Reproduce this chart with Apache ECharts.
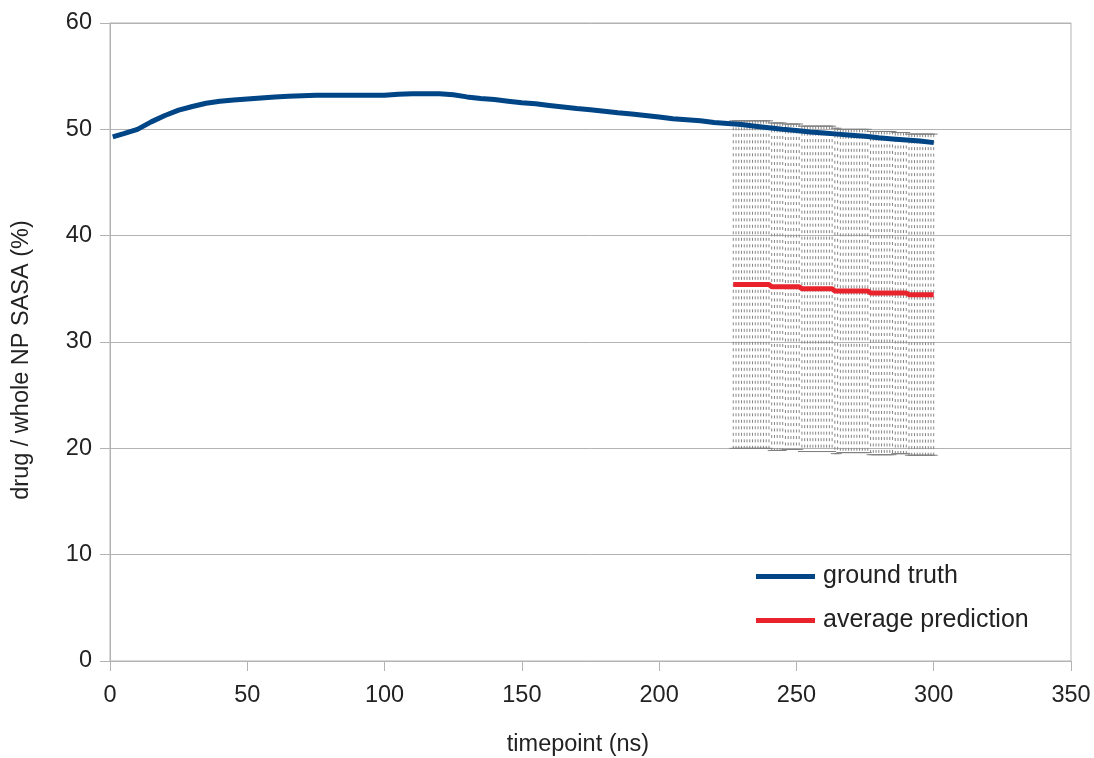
<!DOCTYPE html>
<html>
<head>
<meta charset="utf-8">
<script src="https://cdn.jsdelivr.net/npm/echarts@6/dist/echarts.min.js"></script>
<style>
html,body{margin:0;padding:0;background:#fff;}
#chart{width:1094px;height:758px;}
</style>
</head>
<body>
<div id="chart"></div>
<script>
// Ground truth (time in ns, value in %)
const truthTime = [1,5,10,15,20,25,30,35,40,45,50,55,60,65,70,75,80,85,90,95,100,105,110,115,120,125,130,135,140,145,150,155,160,165,170,175,180,185,190,195,200,205,210,215,220,225,230,235,240,245,250,255,260,265,270,275,280,285,290,295,300];
const truthValues = [49.3,49.6,50.0,50.7,51.3,51.8,52.15,52.45,52.65,52.75,52.85,52.95,53.05,53.1,53.15,53.2,53.2,53.2,53.2,53.2,53.2,53.3,53.35,53.35,53.35,53.25,53.05,52.9,52.8,52.65,52.5,52.4,52.25,52.1,51.95,51.85,51.7,51.55,51.45,51.3,51.15,51.0,50.9,50.8,50.65,50.55,50.45,50.3,50.15,50.0,49.9,49.75,49.65,49.55,49.45,49.35,49.2,49.1,49.0,48.9,48.75];

// Average prediction with error (time 227..300 ns)
const predTime = [227,228,229,230,231,232,233,234,235,236,237,238,239,240,241,242,243,244,245,246,247,248,249,250,251,252,253,254,255,256,257,258,259,260,261,262,263,264,265,266,267,268,269,270,271,272,273,274,275,276,277,278,279,280,281,282,283,284,285,286,287,288,289,290,291,292,293,294,295,296,297,298,299,300];
const predValues = [35.4,35.4,35.4,35.4,35.4,35.4,35.4,35.4,35.4,35.4,35.4,35.4,35.4,35.4,
  35.2,35.2,35.2,35.2,35.2,35.2,35.2,35.2,35.2,35.2,35.2,
  35.0,35.0,35.0,35.0,35.0,35.0,35.0,35.0,35.0,35.0,35.0,35.0,
  34.8,34.8,34.8,34.8,34.8,34.8,34.8,34.8,34.8,34.8,34.8,34.8,34.8,
  34.6,34.6,34.6,34.6,34.6,34.6,34.6,34.6,34.6,34.6,34.6,34.6,34.6,34.6,
  34.45,34.45,34.45,34.45,34.45,34.45,34.45,34.45,34.45,34.45];
const predError = [15.4,15.4,15.4,15.4,15.4,15.4,15.4,15.4,15.4,15.4,15.4,15.4,15.4,15.4,15.4,15.4,15.4,15.4,15.4,
  15.3,15.3,15.3,15.3,15.3,15.3,15.3,15.3,15.3,15.3,15.3,15.3,15.3,15.3,15.3,15.3,15.3,15.3,15.3,15.3,
  15.2,15.2,15.2,15.2,15.2,15.2,15.2,15.2,15.2,15.2,15.2,15.2,15.2,15.2,15.2,15.2,15.2,15.2,15.2,15.2,
  15.1,15.1,15.1,15.1,15.1,15.1,15.1,15.1,15.1,15.1,15.1,15.1,15.1,15.1,15.1];

const xTicks = [0,50,100,150,200,250,300,350];
const yTicks = [0,10,20,30,40,50,60];
const xTitle = 'timepoint (ns)';
const yTitle = 'drug / whole NP SASA (%)';

const truthData = truthTime.map((t,i)=>[t,truthValues[i]]);
const predData = predTime.map((t,i)=>[t,predValues[i]]);
const errData = predTime.map((t,i)=>[t,predValues[i]-predError[i],predValues[i]+predError[i]]);

const FONT = '"Liberation Sans", Arial, sans-serif';
const chart = echarts.init(document.getElementById('chart'), null, {renderer:'canvas'});
chart.setOption({
  animation:false,
  backgroundColor:'#ffffff',
  grid:{left:110,right:23,top:23,bottom:97,show:true,borderColor:'#b3b3b3',borderWidth:1,containLabel:false},
  graphic:[
    {type:'text',x:578,y:745,silent:true,
     style:{text:xTitle,font:'23.5px ' + FONT,fill:'#222',align:'center',verticalAlign:'middle'}},
    {type:'text',x:22,y:360,rotation:Math.PI/2,silent:true,
     style:{text:yTitle,font:'23.5px ' + FONT,fill:'#222',align:'center',verticalAlign:'middle'}}
  ],
  xAxis:{
    type:'value',min:xTicks[0],max:xTicks[xTicks.length-1],interval:50,
    axisLine:{show:true,onZero:false,lineStyle:{color:'#b3b3b3',width:1}},
    axisTick:{show:true,length:10,lineStyle:{color:'#b3b3b3'}},
    axisLabel:{fontFamily:FONT,fontSize:23.5,color:'#222',margin:23},
    splitLine:{show:false}
  },
  yAxis:{
    type:'value',min:yTicks[0],max:yTicks[yTicks.length-1],interval:10,
    axisLine:{show:true,lineStyle:{color:'#b3b3b3',width:1}},
    axisTick:{show:true,length:10,lineStyle:{color:'#b3b3b3'}},
    axisLabel:{fontFamily:FONT,fontSize:23.5,color:'#222',margin:18},
    splitLine:{show:true,lineStyle:{color:'#b3b3b3',width:1}}
  },
  legend:{
    orient:'vertical',left:751,top:559,itemWidth:59,itemHeight:5,itemGap:19,
    icon:'rect',
    textStyle:{fontFamily:FONT,fontSize:25,color:'#222',lineHeight:24,padding:[0,0,0,3]},
    data:['ground truth','average prediction']
  },
  series:[
    {
      type:'custom',name:'error',z:1,silent:true,
      data:errData,
      encode:{x:0,y:[1,2]},
      renderItem:function(params,api){
        const x=api.value(0), lo=api.value(1), hi=api.value(2);
        const pHi=api.coord([x,hi]), pLo=api.coord([x,lo]);
        const c=4;
        return {type:'group',children:[
          {type:'line',shape:{x1:pHi[0],y1:pHi[1],x2:pLo[0],y2:pLo[1]},style:{stroke:'#858585',lineWidth:1,lineDash:[3,3.5]}},
          {type:'line',shape:{x1:pHi[0]-c,y1:pHi[1],x2:pHi[0]+c,y2:pHi[1]},style:{stroke:'#808080',lineWidth:1}},
          {type:'line',shape:{x1:pLo[0]-c,y1:pLo[1],x2:pLo[0]+c,y2:pLo[1]},style:{stroke:'#808080',lineWidth:1}}
        ]};
      }
    },
    {
      type:'line',name:'ground truth',data:truthData,z:3,
      showSymbol:false,symbol:'none',smooth:false,
      lineStyle:{color:'#004586',width:5},itemStyle:{color:'#004586'}
    },
    {
      type:'line',name:'average prediction',data:predData,z:3,
      showSymbol:false,symbol:'none',
      lineStyle:{color:'#e8232b',width:5},itemStyle:{color:'#e8232b'}
    }
  ]
});
</script>
</body>
</html>
